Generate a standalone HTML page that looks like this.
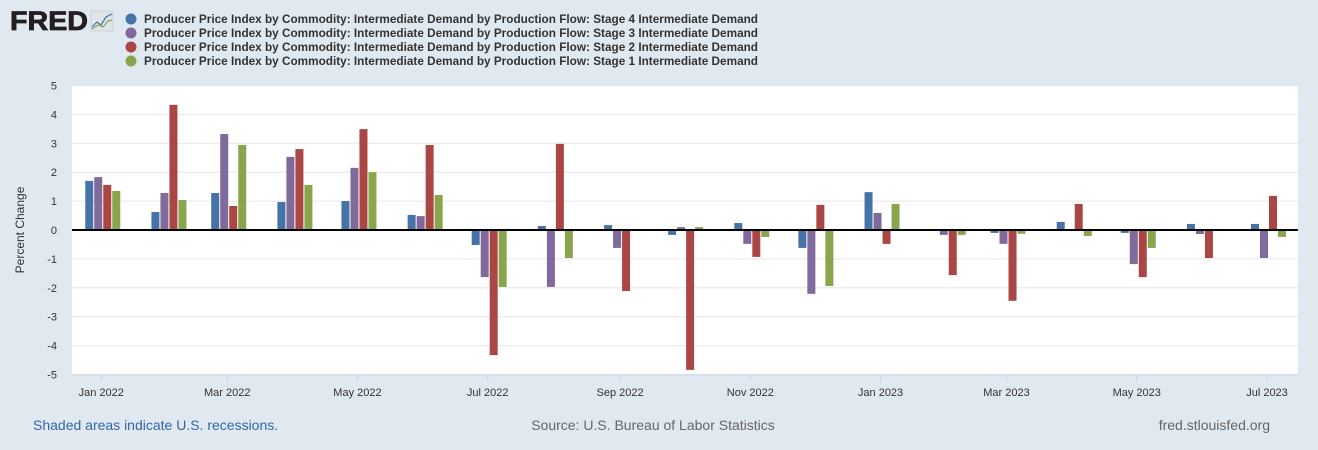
<!DOCTYPE html>
<html><head><meta charset="utf-8"><style>
html,body{margin:0;padding:0;background:#e1e9f0;width:1318px;height:450px;overflow:hidden;font-family:"Liberation Sans",sans-serif}
</style></head><body>
<svg id="chart" width="1318" height="450" xmlns="http://www.w3.org/2000/svg" style="position:absolute;left:0;top:0">
<g>
<text x="10" y="30" font-family="Liberation Sans" font-weight="bold" font-size="27" fill="#231f20" textLength="78" lengthAdjust="spacingAndGlyphs" stroke="#231f20" stroke-width="0.8">FRED</text>
<rect x="91" y="11" width="22" height="20" fill="#dfe4e8" stroke="#bbb" stroke-width="0.5"/>
<polyline points="92,27 97,22 101,25 106,17 112,14" fill="none" stroke="#4572a7" stroke-width="1.2"/>
<polyline points="92,29 98,25 103,27 108,21 112,20" fill="none" stroke="#89a54e" stroke-width="1.2"/>
</g>
<g id="legend"></g>
<g id="plot"></g>
<text x="33" y="430" font-size="14" fill="#3366aa">Shaded areas indicate U.S. recessions.</text>
<text x="653" y="430" font-size="14" fill="#666" text-anchor="middle">Source: U.S. Bureau of Labor Statistics</text>
<text x="1270" y="430" font-size="14" fill="#666" text-anchor="end">fred.stlouisfed.org</text>
</svg>
<script>
const months = ["2022-01","2022-02","2022-03","2022-04","2022-05","2022-06","2022-07","2022-08","2022-09","2022-10","2022-11","2022-12","2023-01","2023-02","2023-03","2023-04","2023-05","2023-06","2023-07"];
const stage4 = [1.70,0.62,1.28,0.97,1.00,0.52,-0.52,0.14,0.17,-0.17,0.24,-0.62,1.31,0.0,-0.10,0.28,-0.10,0.21,0.21];
const stage3 = [1.83,1.28,3.32,2.53,2.15,0.48,-1.63,-1.97,-0.62,0.10,-0.48,-2.21,0.59,-0.17,-0.48,0.0,-1.18,-0.14,-0.97];
const stage2 = [1.56,4.33,0.83,2.80,3.49,2.94,-4.33,2.98,-2.11,-4.84,-0.93,0.87,-0.48,-1.56,-2.45,0.90,-1.63,-0.97,1.18];
const stage1 = [1.35,1.04,2.94,1.56,2.00,1.21,-1.97,-0.97,0.0,0.10,-0.24,-1.94,0.90,-0.17,-0.13,-0.21,-0.62,0.0,-0.24];
const yTicks = [5,4,3,2,1,0,-1,-2,-3,-4,-5];
const xTickLabels = ["Jan 2022","Mar 2022","May 2022","Jul 2022","Sep 2022","Nov 2022","Jan 2023","Mar 2023","May 2023","Jul 2023"];
const xTickDates = ["2022-01","2022-03","2022-05","2022-07","2022-09","2022-11","2023-01","2023-03","2023-05","2023-07"];
const seriesNames = ["Stage 4","Stage 3","Stage 2","Stage 1"];
const colors = ["#4572a7","#80699b","#aa4643","#89a54e"];

const NS="http://www.w3.org/2000/svg";
const L=72,R=1298,T=85.5,B=374.5;
const d0=Date.UTC(2022,6,1), d1=Date.UTC(2023,6,1);
function toDate(s){const p=s.split("-");return Date.UTC(+p[0],+p[1]-1,1);}
function x(s){return 487.7+(toDate(s)-d0)/(d1-d0)*779.3;}
function y(v){return T+(5-v)/10*(B-T);}
function mk(tag,attrs,parent){const e=document.createElementNS(NS,tag);for(const k in attrs)e.setAttribute(k,attrs[k]);parent.appendChild(e);return e;}
const svg=document.getElementById("plot");
const bg=mk("rect",{x:L,y:T,width:R-L,height:B-T,fill:"#fff"},svg);


yTicks.forEach(v=>{
  const g=mk("line",{x1:L,x2:R,y1:y(v),y2:y(v),stroke:"#e6e6e6","stroke-width":1},svg);
  
  
  const t=mk("text",{x:57,y:y(v)+4,"text-anchor":"end","font-size":"11",fill:"#333"},svg);
  t.textContent=v;
  
  
});
const yt=mk("text",{x:0,y:0,"text-anchor":"middle","font-size":"12",fill:"#333",transform:"translate(24,230) rotate(-90)"},svg);
yt.textContent="Percent Change";


const ax=mk("line",{x1:L,x2:R,y1:B+0.5,y2:B+0.5,stroke:"#ccd6eb"},svg);


xTickDates.forEach((d,i)=>{
  const tx=x(d);
  const tk=mk("line",{x1:tx,x2:tx,y1:B,y2:B+8,stroke:"#ccd6eb"},svg);
  
  
  const t=mk("text",{x:tx,y:396,"text-anchor":"middle","font-size":"11",fill:"#333"},svg);
  t.textContent=xTickLabels[i];
  
  
});
const all=[stage4,stage3,stage2,stage1];
months.forEach((m,mi)=>{
  const c=x(m)+1.5;
  all.forEach((s,si)=>{
    const v=s[mi];
    const bx=c-17.5+si*9;
    const r=mk("rect",{x:bx,y:Math.min(y(v),y(0)),width:8,height:Math.abs(y(v)-y(0)),fill:colors[si]},svg);
    
    
  });
});
const z=mk("line",{x1:L,x2:R,y1:y(0),y2:y(0),stroke:"#000","stroke-width":2},svg);


const lg=document.getElementById("legend");
seriesNames.forEach((n,i)=>{
  const cy=19+i*14;
  const c=mk("circle",{cx:131,cy:cy,r:5.5,fill:colors[i]},lg);
  
  
  const t=mk("text",{x:144,y:cy+4,"font-size":"12","font-weight":"bold",fill:"#333",textLength:"614",lengthAdjust:"spacingAndGlyphs"},lg);
  t.textContent="Producer Price Index by Commodity: Intermediate Demand by Production Flow: "+n+" Intermediate Demand";
  
  
});
</script>
</body></html>
